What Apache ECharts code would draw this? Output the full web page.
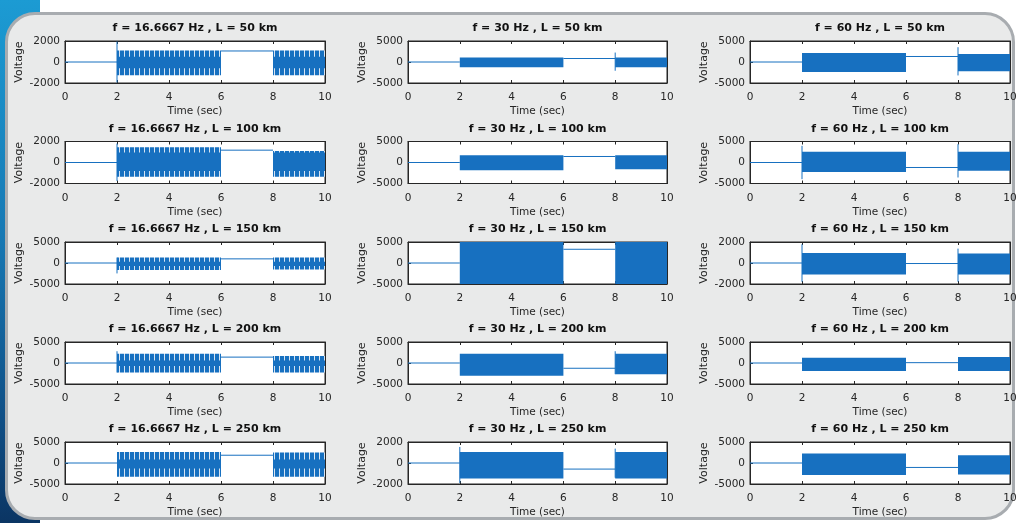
<!DOCTYPE html>
<html>
<head>
<meta charset="utf-8">
<script src="https://cdn.jsdelivr.net/npm/echarts@6/dist/echarts.min.js"></script>
<style>
html, body { margin: 0; padding: 0; background: #fff; }
#wrap { position: relative; width: 1017px; height: 523px; overflow: hidden; background: #fff; }
#band { position: absolute; left: 0; top: 0; width: 40px; height: 523px;
  background: linear-gradient(#1c9bd3 0%, #1779b4 45%, #0f4f86 80%, #0b3563 100%); }
#panel { position: absolute; left: 5px; top: 12px; width: 1010px; height: 508px; box-sizing: border-box;
  border: 3px solid #a8acb0; border-radius: 30px; background: #e9eaea; }
#main { position: absolute; left: 0; top: 0; width: 1017px; height: 523px; }
</style>
</head>
<body>
<div id="wrap">
  <div id="band"></div>
  <div id="panel"></div>
  <div id="main"></div>
</div>
<script>
(function () {
    "use strict";

    // subplot grid: rows = line length, cols = frequency
    const freqLabels = ['16.6667', '30', '60'];
    const lineLengths = [50, 100, 150, 200, 250];
    const yLimits = [
        [2000, 5000, 5000],
        [2000, 5000, 5000],
        [5000, 5000, 2000],
        [5000, 5000, 5000],
        [5000, 2000, 5000]
    ];

    // time windows (sec)
    const idleWindow = [0, 2];
    const burstWindows = [[2, 6], [8, 10]];
    const holdWindow = [6, 8];

    // envelope of the first burst (2-6 s), [min, max] voltage
    const burstFirst = [
        [[-1250, 1100], [-1250, 1080], [-2380, 2130]],
        [[-1365, 1450], [-1825, 1750], [-2250, 2540]],
        [[-1690, 1300], [-5200, 5200], [-1090, 960]],
        [[-2265, 2190], [-3050, 2190], [-1875, 1250]],
        [[-3270, 2640], [-1465, 1055], [-2870, 2240]]
    ];
    // envelope of the second burst (8-10 s)
    const burstSecond = [
        [[-1250, 1100], [-1250, 1080], [-2210, 1890]],
        [[-1365, 1100], [-1590, 1750], [-1980, 2540]],
        [[-1540, 1300], [-5200, 5200], [-1090, 900]],
        [[-2265, 1640], [-2650, 2190], [-1875, 1400]],
        [[-3270, 2480], [-1465, 1055], [-2720, 1850]]
    ];
    // solid core of the 16.6667 Hz bursts (outer part is toothed)
    const combCore = [
        [[-600, 500], null, null],
        [[-800, 950], null, null],
        [[-700, 300], null, null],
        [[-700, 625], null, null],
        [[-1300, 830], null, null]
    ];
    // constant level between the bursts (6-8 s)
    const holdLevel = [
        [1050, 830, 1310],
        [1175, 1430, -1190],
        [985, 3270, -50],
        [1400, -1250, 80],
        [1850, -580, -1060]
    ];
    // switching transients: [time, min, max]
    const spikes = [
        [[[2, -1950, 1950]], [[8, -2080, 2250]], [[8, -3200, 3520]]],
        [[[2, -1750, 1800]], [], [[2, -3970, 3970], [8, -3570, 4370]]],
        [[[2, -2480, 1300]], [], [[2, -1780, 1780], [8, -1780, 1370]]],
        [[[2, -2265, 2800]], [[8, -2650, 2800]], []],
        [[], [[2, -1900, 1530], [8, -1400, 1370]], []]
    ];

    const gridLefts = [65, 408, 750];
    const gridWidths = [260, 259, 260];
    const gridTops = [41, 141.5, 242, 342, 442];
    const gridHeight = 42;

    const traceBlue = '#1770c0';
    const inkColor = '#262626';
    const fontFamily = 'DejaVu Sans';

    // toothed fill for the low-frequency bursts
    const combCanvas = document.createElement('canvas');
    combCanvas.width = 5;
    combCanvas.height = 4;
    const cctx = combCanvas.getContext('2d');
    cctx.fillStyle = '#d6e4f3';
    cctx.fillRect(0, 0, 5, 4);
    cctx.fillStyle = traceBlue;
    cctx.fillRect(0, 0, 4, 4);
    const combFill = { image: combCanvas, repeat: 'repeat' };

    function renderTrace(params, api) {
        const t0 = api.value(0), t1 = api.value(1), lo = api.value(2), hi = api.value(3), kind = api.value(4);
        const a = api.coord([t0, hi]);
        const b = api.coord([t1, lo]);
        if (kind === 2) {
            return {
                type: 'line',
                shape: { x1: a[0], y1: a[1], x2: b[0], y2: b[1] },
                style: { stroke: traceBlue, lineWidth: 1 }
            };
        }
        return {
            type: 'rect',
            shape: { x: a[0], y: a[1], width: b[0] - a[0], height: b[1] - a[1] },
            style: { fill: kind === 1 ? combFill : traceBlue }
        };
    }

    function buildTrace(r, c) {
        let items = [];
        items.push([idleWindow[0], idleWindow[1], 0, 0, 2]);
        [burstFirst, burstSecond].map((burst, w) => {
            const env = burst[r][c];
            const win = burstWindows[w];
            const core = combCore[r][c];
            if (core) {
                items.push([win[0], win[1], env[0], env[1], 1]);
                items.push([win[0], win[1], core[0], core[1], 0]);
            } else {
                items.push([win[0], win[1], env[0], env[1], 0]);
            }
        });
        items.push([holdWindow[0], holdWindow[1], holdLevel[r][c], holdLevel[r][c], 2]);
        spikes[r][c].map(s => {
            items.push([s[0], s[0], s[1], s[2], 2]);
        });
        return items;
    }

    let grids = [], xAxes = [], yAxes = [], series = [], titles = [];
    const labelStyle = { color: inkColor, fontSize: 10.5, fontFamily: fontFamily };

    lineLengths.map((len, r) => {
        freqLabels.map((freq, c) => {
            const idx = grids.length;
            const lim = yLimits[r][c];
            grids.push({
                left: gridLefts[c], top: gridTops[r], width: gridWidths[c], height: gridHeight,
                show: true, backgroundColor: '#fff', borderColor: inkColor, borderWidth: 1,
                containLabel: false, outerBoundsMode: 'none'
            });
            // bottom & left axes with labels
            xAxes.push({
                gridIndex: idx, type: 'value', min: 0, max: 10, interval: 2, position: 'bottom',
                axisLine: { onZero: false, lineStyle: { color: inkColor, width: 1 } },
                axisTick: { inside: true, length: 3, lineStyle: { color: inkColor } },
                axisLabel: Object.assign({ margin: 9 }, labelStyle),
                splitLine: { show: false },
                name: 'Time (sec)', nameLocation: 'middle', nameGap: 23,
                nameTextStyle: { color: inkColor, fontSize: 10.5, fontFamily: fontFamily }
            });
            yAxes.push({
                gridIndex: idx, type: 'value', min: -lim, max: lim, interval: lim, position: 'left',
                axisLine: { onZero: false, lineStyle: { color: inkColor, width: 1 } },
                axisTick: { inside: true, length: 3, lineStyle: { color: inkColor } },
                axisLabel: Object.assign({ margin: 5, formatter: v => String(v) }, labelStyle),
                splitLine: { show: false },
                name: 'Voltage', nameLocation: 'middle', nameGap: 40, nameRotate: 90,
                nameTextStyle: { color: inkColor, fontSize: 11, fontFamily: fontFamily }
            });
            // top & right box ticks
            xAxes.push({
                gridIndex: idx, type: 'value', min: 0, max: 10, interval: 2, position: 'top',
                axisLine: { onZero: false, lineStyle: { color: inkColor, width: 1 } },
                axisTick: { inside: true, length: 3, lineStyle: { color: inkColor } },
                axisLabel: { show: false }, splitLine: { show: false }
            });
            yAxes.push({
                gridIndex: idx, type: 'value', min: -lim, max: lim, interval: lim, position: 'right',
                axisLine: { onZero: false, lineStyle: { color: inkColor, width: 1 } },
                axisTick: { inside: true, length: 3, lineStyle: { color: inkColor } },
                axisLabel: { show: false }, splitLine: { show: false }
            });
            series.push({
                type: 'custom',
                xAxisIndex: idx * 2,
                yAxisIndex: idx * 2,
                clip: true,
                silent: true,
                renderItem: renderTrace,
                encode: { x: [0, 1], y: [2, 3] },
                data: buildTrace(r, c)
            });
            titles.push({
                text: `f = ${freq} Hz , L = ${len} km`,
                left: gridLefts[c] + gridWidths[c] / 2,
                top: gridTops[r] - 18,
                textAlign: 'center',
                padding: 0,
                textStyle: { color: '#111', fontSize: 11, fontWeight: 'bold', fontFamily: fontFamily }
            });
        });
    });

    let myChart = echarts.init(document.getElementById('main'));
    myChart.setOption({
        animation: false,
        backgroundColor: 'transparent',
        title: titles,
        grid: grids,
        xAxis: xAxes,
        yAxis: yAxes,
        series: series
    });
})();
</script>
</body>
</html>
